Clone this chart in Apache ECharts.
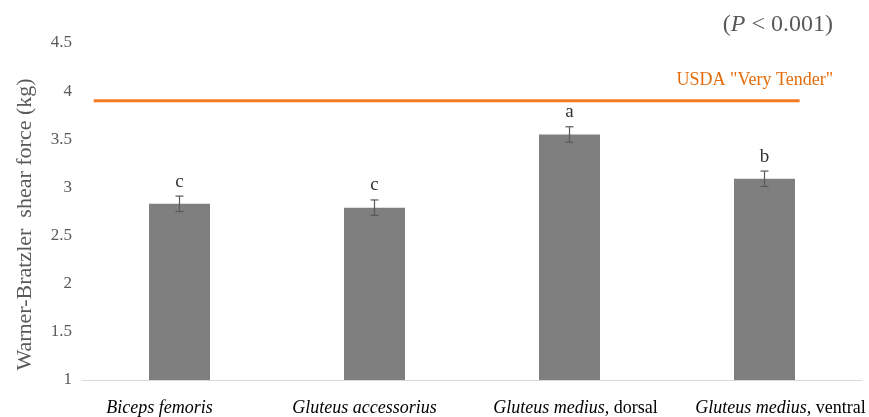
<!DOCTYPE html>
<html><head><meta charset="utf-8">
<script src="https://cdn.jsdelivr.net/npm/echarts@6/dist/echarts.min.js"></script>
<style>html,body{margin:0;padding:0;background:#fff}#c{width:869px;height:417px}</style>
</head><body><div id="c"></div>
<script>
const categories = [
  ['Biceps femoris', ''],
  ['Gluteus accessorius', ''],
  ['Gluteus medius,', ' dorsal'],
  ['Gluteus medius,', ' ventral']
];
const values = [2.83, 2.79, 3.55, 3.09];
const errors = [0.08, 0.08, 0.08, 0.08];
const letters = ['c', 'c', 'a', 'b'];
const usdaValue = 3.9;
const usdaSpan = [0.06, 3.68];
const yTicks = [1, 1.5, 2, 2.5, 3, 3.5, 4, 4.5];
const labelShift = [-20, -10, 6, 16];

const serif = '"Liberation Serif", "Times New Roman", serif';
const chart = echarts.init(document.getElementById('c'));
chart.setOption({
  animation: false,
  textStyle: {fontFamily: serif},
  grid: {left: 82, right: 7, top: 43, bottom: 37},
  title: [
    {text: '{n|(}{i|P}{n| < 0.001)}', right: 31, top: 8,
     textStyle: {fontWeight: 'normal', rich: {
       n: {fontFamily: serif, fontSize: 24, fontWeight: 'normal', color: '#595959'},
       i: {fontFamily: serif, fontSize: 24, fontWeight: 'normal', fontStyle: 'italic', color: '#595959'}
     }}},
    {text: 'USDA "Very Tender"', right: 31, top: 66,
     textStyle: {fontFamily: serif, fontSize: 18, fontWeight: 'normal', color: '#e46c0a'}}
  ],
  xAxis: [{
    type: 'category',
    data: categories.map((c, i) => ({
      value: c[0] + '|' + c[1],
      textStyle: {padding: labelShift[i] < 0 ? [0, -2 * labelShift[i], 0, 0] : [0, 0, 0, 2 * labelShift[i]]}
    })),
    axisLine: {lineStyle: {color: '#d9d9d9', width: 1}},
    axisTick: {show: false},
    axisLabel: {
      margin: 19,
      interval: 0,
      formatter: v => { const p = v.split('|'); return '{i|' + p[0] + '}' + (p[1] ? '{n|' + p[1] + '}' : ''); },
      rich: {
        i: {fontFamily: serif, fontSize: 18, fontStyle: 'italic', color: '#000'},
        n: {fontFamily: serif, fontSize: 18, color: '#000'}
      }
    }
  }, {
    type: 'value', min: 0, max: 4, show: false
  }],
  yAxis: {
    type: 'value', min: 1, max: 4.5, interval: 0.5,
    name: 'Warner-Bratzler  shear force (kg)',
    nameLocation: 'middle', nameGap: 46, nameRotate: 90,
    nameTextStyle: {fontFamily: serif, fontSize: 22, color: '#595959', padding: [0, 26, 0, 0]},
    axisLine: {show: false}, axisTick: {show: false},
    splitLine: {show: false},
    axisLabel: {fontFamily: serif, fontSize: 17, color: '#595959', margin: 10,
      formatter: v => yTicks.includes(v) ? String(v) : ''}
  },
  series: [
    {
      type: 'bar', data: values, barWidth: 61,
      itemStyle: {color: '#7f7f7f'}
    },
    {
      type: 'custom',
      data: values.map((v, i) => [i, v, errors[i]]),
      renderItem: (params, api) => {
        const i = api.value(0), v = api.value(1), e = api.value(2);
        const top = api.coord([i, v + e]);
        const bot = api.coord([i, v - e]);
        const x = top[0];
        const c = '#595959';
        return {type: 'group', children: [
          {type: 'line', shape: {x1: x, y1: top[1], x2: x, y2: bot[1]}, style: {stroke: c, lineWidth: 1.2}},
          {type: 'line', shape: {x1: x - 4, y1: top[1], x2: x + 4, y2: top[1]}, style: {stroke: c, lineWidth: 1.2}},
          {type: 'line', shape: {x1: x - 4, y1: bot[1], x2: x + 4, y2: bot[1]}, style: {stroke: c, lineWidth: 1.2}},
          {type: 'text', style: {text: letters[params.dataIndex], x: x, y: top[1] - 5,
            textAlign: 'center', textVerticalAlign: 'bottom',
            font: '19px ' + serif, fill: '#333'}}
        ]};
      },
      z: 5
    },
    {
      type: 'line', xAxisIndex: 1,
      data: [[usdaSpan[0], usdaValue], [usdaSpan[1], usdaValue]],
      symbol: 'none',
      lineStyle: {color: '#f47b20', width: 3},
      z: 6
    }
  ]
});
</script></body></html>
